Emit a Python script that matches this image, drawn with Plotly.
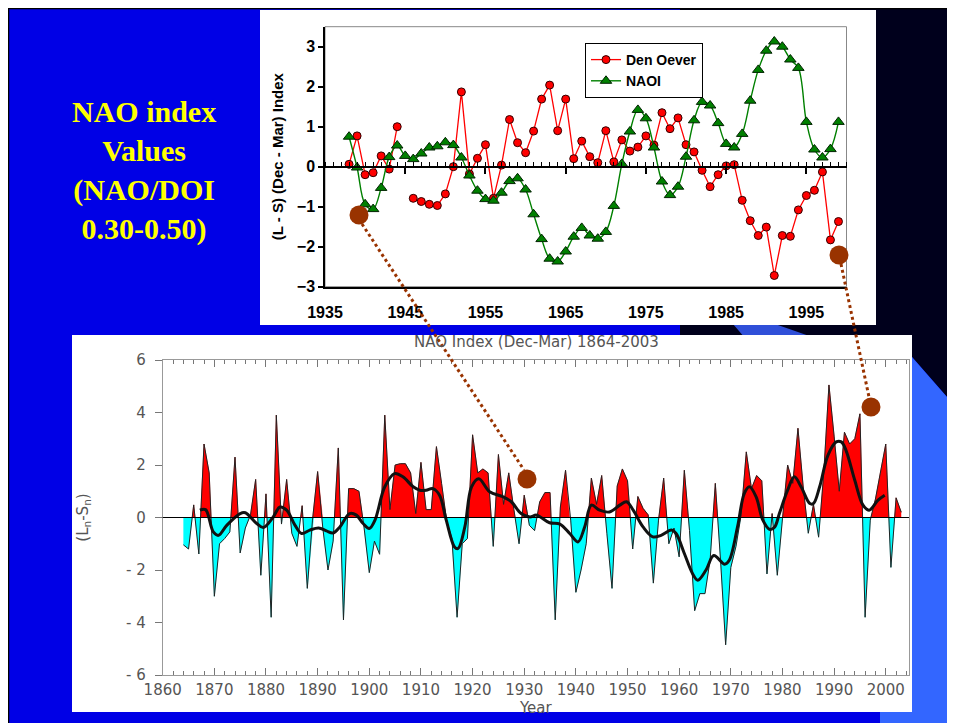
import plotly.graph_objects as go

# The page body keeps its default 8 px margin, so the figure starts at (8, 8)
OFF = 8
W, H = 947, 715


def fx(px):
    return (px - OFF) / W


def fy(py):
    return 1 - (py - OFF) / H


# ---------------- top chart data (1938-1999) ----------------
top_years = list(range(1938, 2000))
den_oever = [0.06, 0.77, -0.2, -0.15, 0.27, -0.06, 1.0, None, -0.79, -0.87,
             -0.94, -0.97, -0.68, 0.0, 1.87, -0.18, 0.21, 0.55, -0.79, 0.04,
             1.18, 0.6, 0.35, 0.89, 1.69, 2.04, 0.9, 1.69, 0.2, 0.64,
             0.25, 0.1, 0.9, 0.12, 0.67, 0.39, 0.49, 0.77, 0.54, 1.35,
             0.95, 1.22, 0.55, 0.37, -0.09, -0.5, -0.2, 0.02, 0.05, -0.84,
             -1.35, -1.72, -1.51, -2.72, -1.72, -1.74, -1.08, -0.72, -0.59, -0.13,
             -1.83, -1.37]
naoi = [0.75, -0.02, -0.94, -1.06, -0.53, 0.24, 0.53, 0.27, 0.19, 0.33,
        0.48, 0.51, 0.61, 0.54, 0.23, -0.22, -0.6, -0.81, -0.85, -0.65,
        -0.36, -0.29, -0.57, -1.19, -1.81, -2.3, -2.37, -2.12, -1.75, -1.53,
        -1.72, -1.8, -1.63, -0.98, 0.07, 0.88, 1.42, 1.21, 0.48, -0.37,
        -0.71, -0.5, 0.25, 1.16, 1.62, 1.53, 1.09, 0.57, 0.48, 0.82,
        1.65, 2.42, 2.9, 3.13, 3.0, 2.68, 2.47, 1.12, 0.43, 0.23,
        0.44, 1.12]
top_xticks = [1935, 1945, 1955, 1965, 1975, 1985, 1995]
top_yticks = [-3, -2, -1, 0, 1, 2, 3]

# ---------------- bottom chart data (1864-2003) ----------------
nao_years = list(range(1864, 2004))
nao_index = [
    -1.04, -1.2, 0.48, -1.39, 2.8, 1.7,                                # 1864-1869
    -3.0, -1.0, -0.8, -0.55, 2.3, -1.35, -0.4, 0.1, 1.45, -2.2,        # 1870s
    0.9, -3.8, 3.9, -0.25, 1.45, -0.6, -1.1, 0.45, -2.7, -0.1,         # 1880s
    1.75, -0.4, -2.0, -0.9, 2.65, -3.9, 1.1, 1.1, 1.0, -0.4,           # 1890s
    -2.1, -0.9, -1.4, 3.9, 0.3, 2.0, 2.05, 2.05, 1.7, 0.15,            # 1900s
    2.1, 0.3, 0.3, 2.7, 1.3, -0.15, -0.8, -3.8, -1.0, -0.8,            # 1910s
    3.15, 1.7, 1.85, 1.7, -1.1, 2.4, 0.5, 1.7, 0.3, -1.0,              # 1920s
    0.85, -0.3, -0.5, 0.6, 0.95, 0.95, -3.9, 0.4, 1.8, -0.1,           # 1930s
    -2.85, -2.0, -1.0, 1.5, 0.5, 1.6, -0.6, -2.7, 1.2, 1.85,           # 1940s
    1.4, -1.2, 0.8, 0.35, 0.1, -2.5, -0.1, 1.5, -1.0, -0.4,            # 1950s
    -1.5, 1.8, -0.5, -3.55, -2.9, -2.9, -1.6, 1.3, -1.6, -4.85,        # 1960s
    -1.9, -1.1, 0.1, 2.5, 1.1, 1.6, 1.4, -2.15, 0.15, -2.2,            # 1970s
    -0.05, 2.0, 1.3, 3.4, 1.2, -0.6, 0.5, -0.75, 1.7, 5.05,            # 1980s
    3.1, 1.0, 3.25, 2.8, 3.0, 3.95, -3.8, -0.1, 0.7, 1.7,              # 1990s
    2.8, -1.9, 0.75, 0.2,                                              # 2000-2003
]
smooth_years = [1867.2, 1868.3, 1869.8, 1870.8, 1872.4, 1875.0, 1876.0, 1878.2,
                1879.5, 1881.4, 1882.7, 1884.0, 1885.6, 1886.9, 1888.5, 1890.2,
                1891.7, 1893.0, 1894.3, 1896.2, 1897.5, 1898.8, 1900.0, 1901.1,
                1903.0, 1904.9, 1906.5, 1908.5, 1909.8, 1911.0, 1912.3, 1913.6,
                1914.9, 1916.5, 1917.2, 1918.5, 1919.8, 1921.2, 1923.3, 1925.9,
                1927.5, 1929.4, 1931.1, 1932.4, 1934.9, 1936.9, 1938.8, 1940.4,
                1941.7, 1943.0, 1944.6, 1946.5, 1948.5, 1949.8, 1951.1, 1953.0,
                1954.9, 1956.5, 1958.5, 1959.4, 1961.0, 1962.6, 1963.6, 1965.2,
                1966.7, 1968.8, 1969.7, 1971.3, 1972.6, 1973.6, 1974.9, 1976.2,
                1977.6, 1978.5, 1979.4, 1981.0, 1982.3, 1983.6, 1985.3, 1986.0,
                1987.2, 1988.8, 1990.4, 1991.4, 1992.3, 1994.0, 1995.6, 1996.8,
                1998.5, 1999.8]
smooth_vals = [0.28, 0.3, -0.55, -0.68, -0.3, 0.15, 0.18, -0.23,
               -0.38, 0.02, 0.4, 0.28, -0.29, -0.61, -0.48, -0.4,
               -0.51, -0.59, -0.36, 0.15, 0.09, -0.23, -0.42, -0.1,
               1.17, 1.67, 1.55, 1.17, 1.04, 1.04, 1.1, 0.85,
               -0.1, -1.12, -1.18, -0.36, 1.17, 1.48, 0.98, 0.79,
               0.6, 0.15, 0.02, 0.09, -0.2, -0.25, -0.61, -0.93,
               -0.36, 0.47, 0.28, 0.21, 0.47, 0.6, 0.28, -0.36,
               -0.74, -0.68, -0.48, -0.61, -1.37, -2.14, -2.39, -2.0,
               -1.45, -1.78, -1.63, -0.36, 0.91, 1.17, 0.79, -0.1,
               -0.46, -0.36, 0.15, 1.04, 1.55, 1.17, 0.53, 0.53,
               1.17, 2.37, 2.88, 2.88, 2.56, 1.42, 0.47, 0.28,
               0.66, 0.85]
bot_xticks = list(range(1860, 2001, 10))
bot_yticks = [-6, -4, -2, 0, 2, 4, 6]
bot_yticktext = ["- 6", "- 4", "- 2", "0", "2", "4", "6"]

# ---------------- colours ----------------
SLIDE_BLUE = "#0000E6"
DARK_NAVY = "#00001C"
LIGHT_BLUE = "#3366FF"
BROWN = "#993300"
RED = "#FF0000"
GREEN = "#008000"
CYAN = "#00FFFF"
GRAY_TXT = "#555555"

fig = go.Figure()

# bottom chart fills (drawn first, lower subplot ids)
fig.add_trace(go.Scatter(x=nao_years, y=nao_index, xaxis="x2", yaxis="y2",
                         mode="lines", fill="tozeroy", fillcolor=RED,
                         line=dict(color=RED, width=0.5), showlegend=False,
                         hoverinfo="skip"))
fig.add_trace(go.Scatter(x=nao_years, y=nao_index, xaxis="x2", yaxis="y3",
                         mode="lines", fill="tozeroy", fillcolor=CYAN,
                         line=dict(color=CYAN, width=0.5), showlegend=False,
                         hoverinfo="skip"))
fig.add_trace(go.Scatter(x=nao_years, y=nao_index, xaxis="x2", yaxis="y4",
                         mode="lines", line=dict(color="#222222", width=1),
                         showlegend=False, hoverinfo="skip"))
fig.add_trace(go.Scatter(x=smooth_years, y=smooth_vals, xaxis="x2", yaxis="y4",
                         mode="lines", line=dict(color="#111111", width=3, shape="spline"),
                         showlegend=False, hoverinfo="skip"))

# top chart
fig.add_trace(go.Scatter(x=top_years, y=den_oever, xaxis="x", yaxis="y",
                         mode="lines+markers", name="Den Oever",
                         line=dict(color=RED, width=1.3),
                         marker=dict(symbol="circle", size=8, color=RED,
                                     line=dict(color="#330000", width=1))))
fig.add_trace(go.Scatter(x=top_years, y=naoi, xaxis="x", yaxis="y",
                         mode="lines+markers", name="NAOI",
                         line=dict(color=GREEN, width=1.4, shape="spline"),
                         marker=dict(symbol="triangle-up", size=10, color=GREEN,
                                     line=dict(color="#002200", width=1))))
# carrier trace for the zero axis of the top chart
fig.add_trace(go.Scatter(x=[top_xticks[0], 2000], y=[0, 0], xaxis="x3", yaxis="y",
                         mode="lines", line=dict(color="black", width=1.5),
                         showlegend=False, hoverinfo="skip"))

bold = dict(family="Liberation Sans, Arial", size=15, color="black", weight="bold")
thin = dict(family="DejaVu Sans", size=14, color=GRAY_TXT)

top_x_dom = [fx(325), fx(846.5)]
top_y_dom = [fy(286.7), fy(26.7)]
zero_pos = fy(286.7 - 3 * 40)

bot_x_dom = [fx(162.7), fx(909)]
bot_top, bot_zero, bot_bot = 360.0, 517.5, 675.0

fig.update_layout(
    width=W, height=H, autosize=False,
    margin=dict(l=0, r=0, t=0, b=0, pad=0, autoexpand=False),
    paper_bgcolor=SLIDE_BLUE, plot_bgcolor="rgba(0,0,0,0)",
    showlegend=True,
    legend=dict(x=fx(585), y=fy(43), xanchor="left", yanchor="top",
                bgcolor="white", bordercolor="black", borderwidth=1,
                font=dict(family="Liberation Sans, Arial", size=14, color="black", weight="bold"),
                tracegroupgap=0, itemwidth=30),
    # ---- top chart axes
    xaxis=dict(domain=top_x_dom, range=[1935, 2000], anchor="y", automargin=False,
               tickvals=top_xticks, ticktext=[str(t) for t in top_xticks],
               tickfont=dict(bold, size=16), ticks="", showgrid=False, zeroline=False,
               showline=True, linecolor="black", linewidth=1.5,
               ticklabelstandoff=10),
    yaxis=dict(domain=top_y_dom, range=[-3, 3.5], anchor="x", automargin=False,
               tickvals=top_yticks, tickfont=dict(bold, size=16),
               ticks="outside", ticklen=5, tickcolor="black", tickwidth=1.5,
               showgrid=False, zeroline=False, showline=True, linecolor="black", linewidth=1.5,
               title=dict(text="(L - S) (Dec - Mar) Index", font=bold, standoff=10)),
    xaxis3=dict(overlaying="x", anchor="free", position=zero_pos, range=[1935, 2000],
                automargin=False, tickvals=top_xticks[1:], showticklabels=False,
                ticks="outside", ticklen=7, tickcolor="black", tickwidth=1.5,
                minor=dict(dtick=1, tick0=1935, ticks="inside", ticklen=4,
                           tickcolor="black", tickwidth=1),
                showgrid=False, zeroline=False, showline=True, linecolor="black",
                linewidth=1.5),
    # ---- bottom chart axes
    xaxis2=dict(domain=bot_x_dom, range=[1860, 2004.5], anchor="y4", automargin=False,
                tickvals=bot_xticks, tickfont=dict(thin, size=15),
                ticks="inside", ticklen=7, tickcolor="#777", tickwidth=1,
                minor=dict(dtick=2, tick0=1860, ticks="inside", ticklen=4,
                           tickcolor="#777", tickwidth=1),
                mirror="ticks", showline=True, linecolor="#999", linewidth=1,
                showgrid=False, zeroline=False, ticklabelstandoff=1,
                title=dict(text="Year", font=dict(thin, size=15), standoff=0)),
    yaxis2=dict(domain=[fy(bot_zero), fy(bot_top)], range=[0, 6], anchor="x2",
                visible=False, fixedrange=True, automargin=False),
    yaxis3=dict(domain=[fy(bot_bot), fy(bot_zero)], range=[-6, 0], anchor="x2",
                visible=False, fixedrange=True, automargin=False),
    yaxis4=dict(domain=[fy(bot_bot), fy(bot_top)], range=[-6, 6], anchor="x2",
                automargin=False,
                tickvals=bot_yticks, ticktext=bot_yticktext, tickfont=dict(thin, size=15),
                ticks="outside", ticklen=7, tickcolor="#777",
                showline=True, linecolor="#999", mirror=True,
                showgrid=False, zeroline=False, ticklabelstandoff=6,
                title=dict(text="(L<sub>n</sub>-S<sub>n</sub>)", font=dict(thin, size=15),
                           standoff=33)),
)

shapes = []
# slide background
shapes.append(dict(type="path", xref="paper", yref="paper", layer="below",
                   path=f"M {fx(680)},{fy(8)} L {fx(955)},{fy(8)} L {fx(955)},{fy(406)} "
                        f"L {fx(912)},{fy(357)} L {fx(810)},{fy(338)} L {fx(680)},{fy(338)} Z",
                   fillcolor=DARK_NAVY, line=dict(width=0)))
shapes.append(dict(type="path", xref="paper", yref="paper", layer="below",
                   path=f"M {fx(733)},{fy(324)} L {fx(775)},{fy(324)} L {fx(815)},{fy(338)} "
                        f"L {fx(745)},{fy(338)} Z",
                   fillcolor="#2F4FD8", line=dict(width=0)))
shapes.append(dict(type="path", xref="paper", yref="paper", layer="below",
                   path=f"M {fx(912)},{fy(357)} L {fx(955)},{fy(406)} L {fx(955)},{fy(723)} "
                        f"L {fx(880)},{fy(723)} L {fx(880)},{fy(700)} L {fx(912)},{fy(700)} Z",
                   fillcolor=LIGHT_BLUE, line=dict(width=0)))
# thin dark border of the slide picture
shapes.append(dict(type="line", xref="paper", yref="paper", layer="below",
                   x0=0, x1=1, y0=fy(8.5), y1=fy(8.5), line=dict(color="black", width=1.5)))
shapes.append(dict(type="line", xref="paper", yref="paper", layer="below",
                   x0=fx(8.5), x1=fx(8.5), y0=0, y1=1, line=dict(color="black", width=1.5)))
# white chart panels
shapes.append(dict(type="rect", xref="paper", yref="paper", layer="below",
                   x0=fx(260), x1=fx(876), y0=fy(325), y1=fy(10),
                   fillcolor="white", line=dict(width=0)))
shapes.append(dict(type="rect", xref="paper", yref="paper", layer="below",
                   x0=fx(72), x1=fx(912), y0=fy(712), y1=fy(335),
                   fillcolor="white", line=dict(width=0)))
# grey frame of the top plot
shapes.append(dict(type="rect", xref="x domain", yref="y domain", layer="below",
                   x0=0, x1=1, y0=0, y1=1, line=dict(color="#888888", width=1)))
# zero line of bottom chart
shapes.append(dict(type="line", xref="x2 domain", yref="y4", layer="above",
                   x0=0, x1=1, y0=0, y1=0, line=dict(color="black", width=1.2)))
# brown connector dots and dotted lines
for cx, cy in [(359, 215), (839, 255), (527, 479), (871, 407)]:
    shapes.append(dict(type="circle", xref="paper", yref="paper", layer="above",
                       x0=fx(cx - 9.5), x1=fx(cx + 9.5), y0=fy(cy + 9.5), y1=fy(cy - 9.5),
                       fillcolor=BROWN, line=dict(width=0)))
for (x0, y0), (x1, y1) in [((362, 224), (524, 470)), ((841, 264), (869, 397))]:
    shapes.append(dict(type="line", xref="paper", yref="paper", layer="above",
                       x0=fx(x0), y0=fy(y0), x1=fx(x1), y1=fy(y1),
                       line=dict(color=BROWN, width=3, dash="dot")))
fig.update_layout(shapes=shapes)

fig.add_annotation(x=fx(144), y=fy(170), xref="paper", yref="paper",
                   text="NAO index<br>Values<br>(NAO/DOI<br>0.30-0.50)",
                   showarrow=False, align="center", xanchor="center", yanchor="middle",
                   font=dict(family="Liberation Serif, Times New Roman", size=30,
                             color="#FFFF00", weight="bold"))
fig.add_annotation(x=fx(536), y=fy(342), xref="paper", yref="paper",
                   text="NAO Index (Dec-Mar) 1864-2003", showarrow=False,
                   xanchor="center", yanchor="middle",
                   font=dict(family="DejaVu Sans", size=15, color=GRAY_TXT))

fig.write_html("out.html")
